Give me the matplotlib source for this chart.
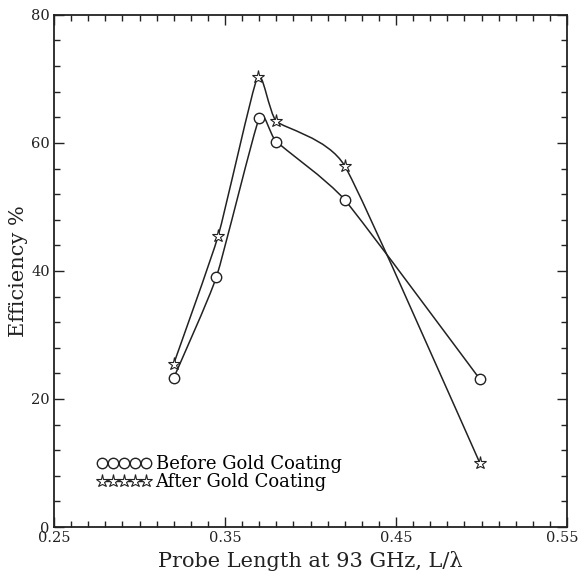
import numpy as np
import matplotlib.pyplot as plt
import matplotlib.transforms as mtransforms
from matplotlib.path import Path
from matplotlib.patches import PathPatch
from matplotlib.lines import Line2D
from matplotlib.ticker import MultipleLocator

plt.rcParams['font.family'] = ['DejaVu Serif']

# probe length L/lambda and efficiency (%)
before_x = [0.320, 0.345, 0.370, 0.380, 0.420, 0.499]
before_y = [23.3, 39.1, 63.9, 60.2, 51.1, 23.1]
after_x = [0.320, 0.346, 0.369, 0.380, 0.420, 0.499]
after_y = [25.5, 45.5, 70.3, 63.4, 56.4, 10.0]
xticks = [0.25, 0.35, 0.45, 0.55]
xtick_labels = ['0.25', '0.35', '0.45', '0.55']


def smooth_path(xs, ys, t=0.25):
    # catmull-rom style bezier path through the points
    pts = np.column_stack([xs, ys])
    verts = [pts[0]]
    codes = [Path.MOVETO]
    n = len(pts)
    for i in range(n - 1):
        p0 = pts[max(i - 1, 0)]
        p1 = pts[i]
        p2 = pts[i + 1]
        p3 = pts[min(i + 2, n - 1)]
        c1 = p1 + (p2 - p0) * t / 3
        c2 = p2 - (p3 - p1) * t / 3
        verts += [c1, c2, p2]
        codes += [Path.CURVE4] * 3
    return Path(verts, codes)


fig = plt.figure(figsize=(5.81, 5.71), dpi=100)
ax = fig.add_axes([0.093, 0.077, 0.883, 0.897])

for xs, ys in [(before_x, before_y), (after_x, after_y)]:
    ax.add_patch(PathPatch(smooth_path(xs, ys), fill=False, lw=1.1, ec='#222222'))

ax.plot(before_x, before_y, 'o', ms=7.5, mfc='white', mec='#222222', mew=1.0, zorder=3)
ax.plot(after_x, after_y, '*', ms=9.5, mfc='white', mec='#222222', mew=0.8, zorder=3)

ax.set_xlim(0.25, 0.55)
ax.set_ylim(0, 80)
ax.xaxis.set_minor_locator(MultipleLocator(0.01))
ax.yaxis.set_major_locator(MultipleLocator(20))
ax.yaxis.set_minor_locator(MultipleLocator(4))
ax.set_xticks(xticks)
ax.set_xticklabels(xtick_labels)
ax.tick_params(which='both', direction='in', top=True, right=True, width=1.0,
               labelsize=10.5, colors='#222222', pad=3)
ax.tick_params(which='major', length=7)
ax.tick_params(which='minor', length=4)
for s in ax.spines.values():
    s.set_linewidth(1.3)
    s.set_color('#222222')

# last x label sits a little to the left so it stays on the page
last = ax.get_xticklabels()[-1]
last.set_transform(last.get_transform() + mtransforms.ScaledTranslation(-5 / 100, 0, fig.dpi_scale_trans))

ax.set_xlabel('Probe Length at 93 GHz, L/\u03bb', fontsize=15, labelpad=4, color='#222222')
ax.set_ylabel('Efficiency %', fontsize=15, labelpad=2, color='#222222')

handles = [
    Line2D([], [], color='#222222', lw=1.0, marker='o', ms=7.5, mfc='white', mec='#222222'),
    Line2D([], [], color='#222222', lw=1.0, marker='*', ms=9.5, mfc='white', mec='#222222', mew=0.8),
]
ax.legend(handles, ['Before Gold Coating', 'After Gold Coating'], loc='lower left',
          bbox_to_anchor=(0.066, 0.052), frameon=False, numpoints=5, handlelength=3.0,
          handletextpad=0.25, labelspacing=0.0, fontsize=13, borderpad=0)

fig.savefig('out.png', dpi=100)
